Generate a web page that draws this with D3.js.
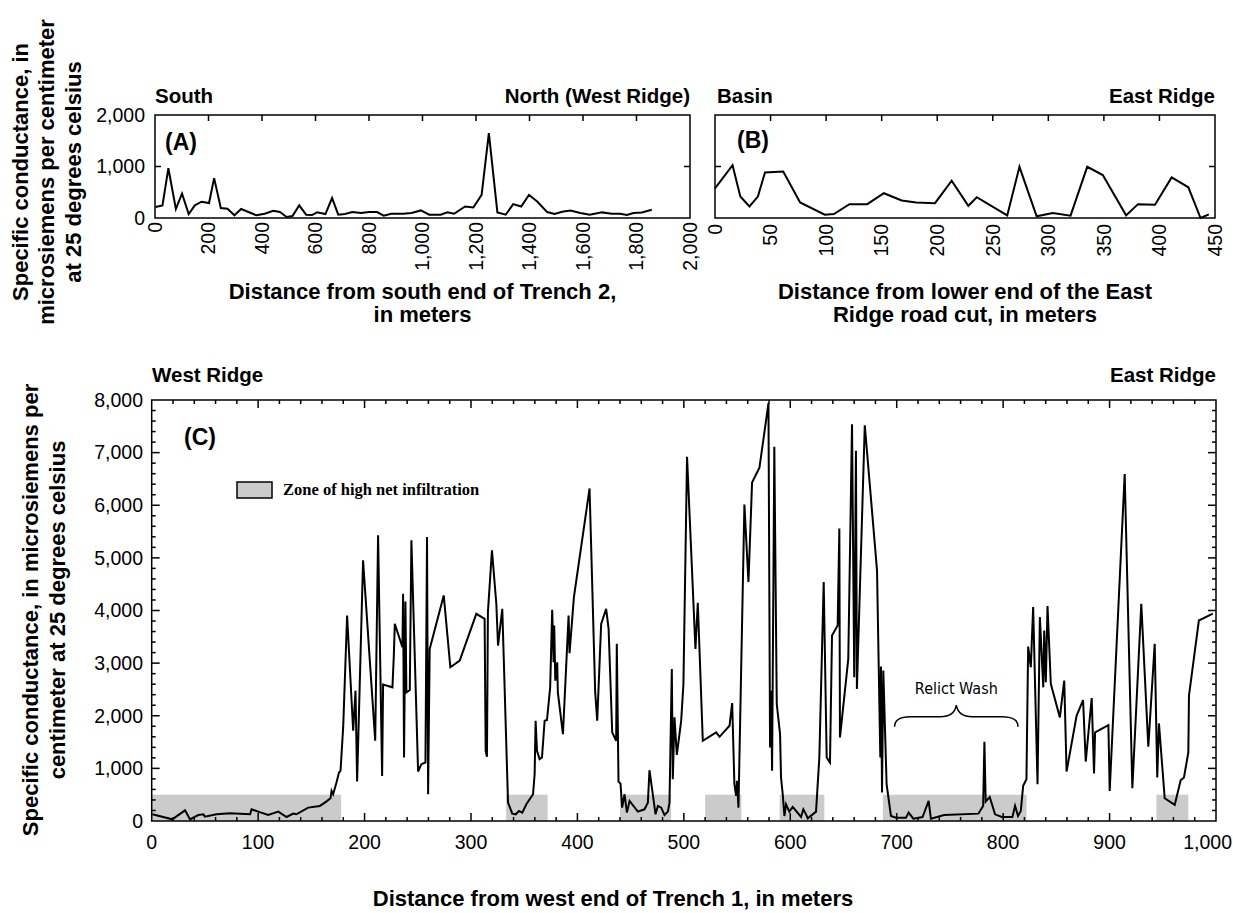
<!DOCTYPE html>
<html><head><meta charset="utf-8">
<script src="https://cdn.jsdelivr.net/npm/d3@7"></script>
<style>
body{margin:0;background:#fff;}
svg text{font-family:"Liberation Sans",Arial,Helvetica,sans-serif;fill:#000;}
</style></head><body>
<svg id="chart" width="1233" height="913"></svg>
<script>
// ---------- Panel A: Trench 2 ----------
const aDist = [2,28,50,78,101,126,149,174,202,221,246,271,297,322,347,379,410,442,467,492,514,539,565,587,606,637,662,685,710,738,770,801,830,855,883,927,959,994,1025,1068,1093,1118,1159,1190,1221,1248,1280,1311,1339,1369,1398,1429,1466,1494,1522,1553,1590,1625,1671,1708,1739,1764,1789,1820,1857];
const aCond = [213,245,967,174,471,77,245,316,290,774,193,181,52,174,122,52,84,142,116,19,39,245,64,58,110,77,387,64,77,116,97,116,116,45,84,84,97,147,64,64,109,83,224,205,449,1647,109,64,269,224,449,320,115,77,122,147,96,64,109,83,83,58,96,109,160];
const aXTicks = [0,200,400,600,800,1000,1200,1400,1600,1800,2000];
const abYTicks = [0,1000,2000];

// ---------- Panel B: East Ridge road cut ----------
const bDist = [0,15.8,22.8,31,38.6,45,61.4,76.6,98.8,107,121,137,152,168,181,198,213,228,235.6,263,274,289.5,304,320,335,349,370,380.7,396,411,426,437,444.5];
const bCond = [577,1026,417,224,417,885,904,301,64,77,269,269,481,340,301,288,724,237,404,51,994,32,96,45,994,833,51,269,256,788,596,0,70];
const bXTicks = [0,50,100,150,200,250,300,350,400,450];

// ---------- Panel C: Trench 1 ----------
const cDist = [0.6,19.4,31.3,36,43.8,48.5,50,61,73.5,92.5,93.8,100,109.5,118.9,126.7,133,136,147,158,164,168,169,170.5,173.6,176,177.4,179.9,183.6,189.3,191.5,193,198.6,210,212.7,216.5,217.4,226.2,227.5,228.4,235.6,236.2,237.1,238.4,239.3,242.5,244,250.3,253.4,257.2,258.7,259.7,261.2,274.4,280.6,289.4,305,312.8,313.8,315,315.9,319.7,323.8,325.4,329.4,334.8,338.8,342,345.1,348.2,352,358.3,359.8,360.7,362,364.5,366.7,369.2,371.4,374.4,376.3,377.6,378.2,379.2,381,381.6,386.4,391.7,392.6,396.7,411.4,416.7,418.6,422.3,427,429.3,432.7,436.4,437,438.6,440.5,442,444.3,446.5,449,456.8,463,466.2,467.7,473.4,475.6,478.7,481.8,485,486.5,488.7,489.6,491.2,493.4,497.5,499.6,503,510.9,513.1,517.8,530.4,533.5,542.9,545.4,547.5,549.1,550,551.3,556.9,560.7,564.1,571,579.5,581,582,582.9,585,587.3,590.4,591.3,592.9,594.5,596,599.1,602.3,610.1,612.3,614.8,616.4,624.2,627.3,631.4,634.2,637.3,639.2,644.5,646.1,646.7,654.5,658,660.1,661.7,662.6,670,681.5,684.6,685.2,686.2,687.4,690.5,694.6,699.3,708.7,711.2,715.6,724.3,730,732.1,744.6,776.8,781.2,782.4,783.6,787.4,792.4,798.7,808.7,811.2,814,816.6,818.8,821.9,823.5,826,828.2,832.3,834.5,837.7,838.6,840.1,841.7,844.8,853.3,857.4,859.6,869,875.1,877.6,883.2,885.4,886.4,898.9,900.1,914.2,921.4,929.8,936.4,942.4,944.8,946.4,951.8,961.2,966.8,969.9,974,974.6,983.9,997];
const cCond = [127,32,203,32,114,127,83,127,146,127,222,178,114,178,76,140,127,254,286,368,432,571,508,730,921,952,1778,3905,1715,2477,749,4953,1524,5430,857,2591,2540,3143,3746,3302,4318,1207,4172,2445,2489,5334,940,1080,1111,5398,508,3270,4286,2921,3048,3937,3842,1334,1219,3969,5144,4128,3334,4032,349,140,127,190,159,318,508,889,1905,1334,1175,1207,1905,1918,2540,4013,3016,3715,2667,3016,2445,1651,3905,3188,4254,6318,2445,1905,3746,4032,3651,1683,1524,3366,749,711,254,508,159,381,178,222,349,965,127,286,254,114,178,349,2889,794,1969,1257,1905,2604,6922,3270,4147,1524,1683,1600,1810,2242,699,476,762,254,6013,4540,6432,6712,7938,1397,2477,953,7112,2223,1651,826,508,95,318,178,267,76,222,127,51,178,1207,4540,1207,1111,3524,3715,5556,1588,3080,7537,2731,7036,2508,7520,4763,1207,2934,540,2858,699,95,64,64,159,44,76,381,44,114,140,286,1505,368,457,127,76,76,286,95,190,667,794,3315,2921,4064,699,3874,2540,3620,2635,4083,2604,1969,2667,940,2000,2299,1130,2337,902,1683,1822,572,6591,622,4128,1410,3366,826,1854,432,305,775,826,1302,2381,3810,3940];
const zoneStart = [0,333,440,520,590,687,944];
const zoneEnd   = [178,372,488,554,632,822,974];
const zoneTop = 500;
const cXTicks = [0,100,200,300,400,500,600,700,800,900,1000];
const cYTicks = [0,1000,2000,3000,4000,5000,6000,7000,8000];

const svg = d3.select("#chart");
const fmt = d3.format(",");
const BOLD = 700;

function frame(g, x, y, sw){
  const [x0,x1]=x.range(), [y0,y1]=y.range();
  g.append("rect").attr("x",x0).attr("y",y1).attr("width",x1-x0).attr("height",y0-y1)
   .attr("fill","none").attr("stroke","#000").attr("stroke-width",sw);
}
function ticksH(g, x, y, vals, len, which){
  const [y0,y1]=y.range();
  vals.forEach(v=>{
    if(which.includes("top")) g.append("line").attr("x1",x(v)).attr("x2",x(v)).attr("y1",y1).attr("y2",y1+len).attr("stroke","#000").attr("stroke-width",1.5);
    if(which.includes("bottom")) g.append("line").attr("x1",x(v)).attr("x2",x(v)).attr("y1",y0).attr("y2",y0-len).attr("stroke","#000").attr("stroke-width",1.5);
  });
}
function ticksV(g, x, y, vals, len, which){
  const [x0,x1]=x.range();
  vals.forEach(v=>{
    if(which.includes("left")) g.append("line").attr("x1",x0).attr("x2",x0+len).attr("y1",y(v)).attr("y2",y(v)).attr("stroke","#000").attr("stroke-width",1.5);
    if(which.includes("right")) g.append("line").attr("x1",x1).attr("x2",x1-len).attr("y1",y(v)).attr("y2",y(v)).attr("stroke","#000").attr("stroke-width",1.5);
  });
}
function txt(g, s, x, y, size, opts={}){
  const t=g.append("text").attr("x",x).attr("y",y).attr("font-size",size).text(s);
  if(opts.bold) t.attr("font-weight",BOLD);
  if(opts.anchor) t.attr("text-anchor",opts.anchor);
  if(opts.family) t.style("font-family",opts.family);
  return t;
}
function rotText(g, s, x, y, size, anchor, bold){
  return g.append("text").attr("transform",`translate(${x},${y}) rotate(-90)`)
    .attr("text-anchor",anchor).attr("dy","0.35em").attr("font-size",size)
    .attr("font-weight",bold?BOLD:400).text(s);
}
const line = (x,y)=>d3.line().x(d=>x(d[0])).y(d=>y(d[1]));

// ===== Panel A =====
{
  const g=svg.append("g");
  const x=d3.scaleLinear([0,2000],[155,690]);
  const y=d3.scaleLinear([0,2000],[218,115]);
  g.append("path").datum(aDist.map((d,i)=>[d,aCond[i]])).attr("d",line(x,y))
   .attr("fill","none").attr("stroke","#000").attr("stroke-width",2);
  frame(g,x,y,1.5);
  ticksH(g,x,y,aXTicks.slice(1,-1),6,["top"]);
  ticksV(g,x,y,[1000],6,["left","right"]);
  abYTicks.forEach(v=>txt(g,fmt(v),145,y(v),19.5,{anchor:"end"}).attr("dy","0.35em"));
  aXTicks.forEach(v=>rotText(g,fmt(v),x(v),222,19.5,"end",false));
  txt(g,"South",155,103,20.5,{bold:true});
  txt(g,"North (West Ridge)",690,103,20.5,{bold:true,anchor:"end"});
  txt(g,"(A)",165,150,23,{bold:true});
  txt(g,"Distance from south end of Trench 2,",422.5,299,22,{bold:true,anchor:"middle"});
  txt(g,"in meters",422.5,322,22,{bold:true,anchor:"middle"});
  ["Specific conductance, in","microsiemens per centimeter","at 25 degrees celsius"]
    .forEach((s,i)=>rotText(g,s,20+i*26.5,172,22,"middle",true));
}

// ===== Panel B =====
{
  const g=svg.append("g");
  const x=d3.scaleLinear([0,450],[715,1215]);
  const y=d3.scaleLinear([0,2000],[218,115]);
  g.append("path").datum(bDist.map((d,i)=>[d,bCond[i]])).attr("d",line(x,y))
   .attr("fill","none").attr("stroke","#000").attr("stroke-width",2);
  frame(g,x,y,1.5);
  ticksH(g,x,y,bXTicks.slice(1,-1),6,["top"]);
  ticksV(g,x,y,[1000],6,["left","right"]);
  bXTicks.forEach(v=>rotText(g,fmt(v),x(v),224,19.5,"end",false));
  txt(g,"Basin",717,103,20.5,{bold:true});
  txt(g,"East Ridge",1215,103,20.5,{bold:true,anchor:"end"});
  txt(g,"(B)",737,148,23,{bold:true});
  txt(g,"Distance from lower end of the East",965,299,22,{bold:true,anchor:"middle"});
  txt(g,"Ridge road cut, in meters",965,322,22,{bold:true,anchor:"middle"});
}

// ===== Panel C =====
{
  const g=svg.append("g");
  const x=d3.scaleLinear([0,1000],[151.7,1216]);
  const y=d3.scaleLinear([0,8000],[821,400]);
  zoneStart.forEach((s,i)=>g.append("rect").attr("x",x(s)).attr("y",y(zoneTop))
    .attr("width",x(zoneEnd[i])-x(s)).attr("height",y(0)-y(zoneTop)).attr("fill","#cbcbcb"));
  g.append("path").datum(cDist.map((d,i)=>[d,cCond[i]])).attr("d",line(x,y))
   .attr("fill","none").attr("stroke","#000").attr("stroke-width",2);
  frame(g,x,y,1.5);
  const minorX=d3.range(0,1001,20).filter(v=>v%100!==0);
  const minorY=d3.range(0,8001,200).filter(v=>v%1000!==0);
  ticksH(g,x,y,minorX,4,["top","bottom"]);
  ticksH(g,x,y,cXTicks.slice(1,-1),8,["top","bottom"]);
  ticksV(g,x,y,minorY,4,["left","right"]);
  ticksV(g,x,y,cYTicks.slice(1,-1),8,["left","right"]);
  cYTicks.forEach(v=>txt(g,fmt(v),143,y(v),19.5,{anchor:"end"}).attr("dy","0.35em"));
  cXTicks.forEach((v,i)=>{
    const last=i===cXTicks.length-1;
    txt(g,fmt(v),last?1232:x(v),849,19.5,{anchor:last?"end":"middle"});
  });
  txt(g,"West Ridge",152,382,20.5,{bold:true});
  txt(g,"East Ridge",1216,382,20.5,{bold:true,anchor:"end"});
  txt(g,"(C)",184,445,23,{bold:true});
  // legend
  g.append("rect").attr("x",237).attr("y",482).attr("width",35).attr("height",16)
   .attr("fill","#cbcbcb").attr("stroke","#000").attr("stroke-width",1.5);
  txt(g,"Zone of high net infiltration",283,495,16.5,{bold:true,family:'"Liberation Serif","Times New Roman",serif'});
  // relict wash brace
  const bs=698, be=814, bm=(bs+be)/2;
  const X1=x(bs), X2=x(be), Xm=x(bm), yE=y(1790), yH=y(1980), yT=y(2200);
  g.append("path").attr("d",`M${X1},${yE} Q${X1},${yH} ${X1+16},${yH} L${Xm-16},${yH} Q${Xm-2},${yH} ${Xm},${yT} Q${Xm+2},${yH} ${Xm+16},${yH} L${X2-16},${yH} Q${X2},${yH} ${X2},${yE}`)
   .attr("fill","none").attr("stroke","#000").attr("stroke-width",1.5);
  txt(g,"Relict Wash",Xm,y(2420),16,{anchor:"middle",family:'"Liberation Sans Narrow","DejaVu Sans Condensed",sans-serif'});
  txt(g,"Distance from west end of Trench 1, in meters",613,906,22,{bold:true,anchor:"middle"});
  ["Specific conductance, in microsiemens per","centimeter at 25 degrees celsius"]
    .forEach((s,i)=>rotText(g,s,30+i*27,610,22,"middle",true));
}
</script>
</body></html>
